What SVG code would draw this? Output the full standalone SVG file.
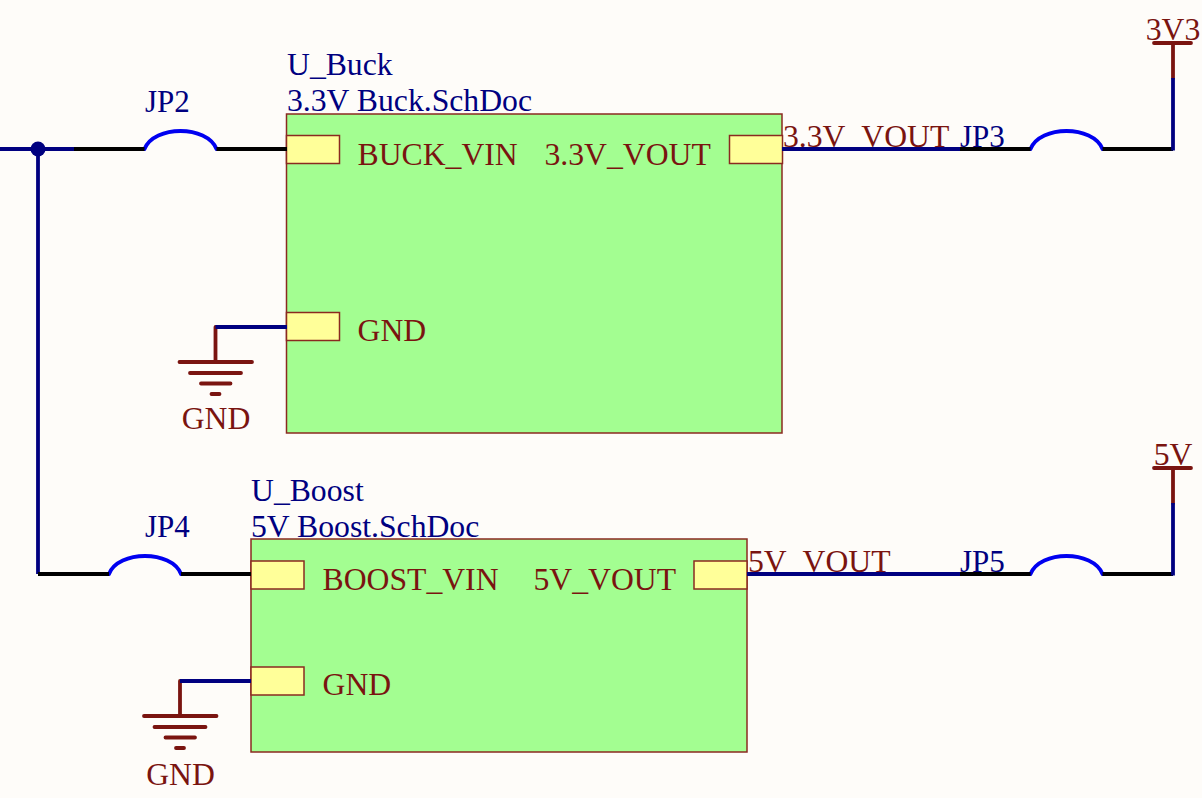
<svg xmlns="http://www.w3.org/2000/svg" width="1202" height="798" viewBox="0 0 1202 798">
<style>
text{font-family:"Liberation Serif","Times New Roman",serif;font-size:31.7px}
.r{fill:#7a1410}.b{fill:#000080}
.jp{font-size:31px}
.box{fill:#a3fe91;stroke:#8a2a20;stroke-width:1.5}
.pin{fill:#ffff99;stroke:#8a2a20;stroke-width:1.5}
.w,.k,.p,.a{fill:none;stroke-width:3.8}
.w{stroke:#000080}.k{stroke:#000}.p{stroke:#7a1410;stroke-linecap:round}.a{stroke:#0000f0;stroke-linecap:round}
</style>
<rect width="1202" height="798" fill="#fefcf9"/>
<g id="U_Buck">
<rect class="box" x="286.500" y="114" width="495.500" height="319"/>
<rect class="pin" x="286.500" y="135.500" width="53" height="28"/>
<rect class="pin" x="729.500" y="135.500" width="53" height="28"/>
<rect class="pin" x="286.500" y="312.500" width="53" height="28"/>
<text class="b" x="287" y="75">U_Buck</text>
<text class="b" x="287" y="111">3.3V Buck.SchDoc</text>
<text class="r" x="357.500" y="165">BUCK_VIN</text>
<text class="r" x="544.500" y="165">3.3V_VOUT</text>
<text class="r" x="357.500" y="341">GND</text>
<text class="r" x="783" y="146.500">3.3V_VOUT</text>
</g>
<g id="U_Boost">
<rect class="box" x="251" y="539" width="496" height="213"/>
<rect class="pin" x="251" y="561" width="53" height="28"/>
<rect class="pin" x="694" y="561" width="53" height="28"/>
<rect class="pin" x="251" y="667" width="53" height="28"/>
<text class="b" x="251" y="500.500">U_Boost</text>
<text class="b" x="251" y="536.500">5V Boost.SchDoc</text>
<text class="r" x="322.500" y="590">BOOST_VIN</text>
<text class="r" x="533.500" y="590">5V_VOUT</text>
<text class="r" x="322.500" y="695">GND</text>
<text class="r" x="748" y="572">5V_VOUT</text>
</g>
<g id="JP2"><path class="a" d="M144.500 149C154 125 207 125 216.500 149"/><text class="b jp" x="145" y="112">JP2</text></g>
<g id="JP3"><path class="a" d="M1030.500 149C1040 125 1093 125 1102.500 149"/><text class="b jp" x="960" y="146.500">JP3</text></g>
<g id="JP4"><path class="a" d="M109 574C118 550 172 550 181 574"/><text class="b jp" x="145" y="537">JP4</text></g>
<g id="JP5"><path class="a" d="M1030.500 574C1040 550 1093 550 1102.500 574"/><text class="b jp" x="960" y="572">JP5</text></g>
<g id="GND1">
<path class="p" d="M215.500 327V362M179.500 362H252M190 373H241M201 383.500H230.500M211.500 394H219.500"/>
<text class="r" x="216" y="429" text-anchor="middle">GND</text>
</g>
<g id="GND2">
<path class="p" d="M180 681V716M144 716H216.500M154.500 727H205.500M165.500 737.500H195M176 748H184"/>
<text class="r" x="180.500" y="785" text-anchor="middle">GND</text>
</g>
<g id="P3V3">
<path class="p" d="M1173 43V78"/><path class="p" d="M1154 43H1191"/>
<text class="r" x="1173" y="39.500" text-anchor="middle">3V3</text>
</g>
<g id="P5V">
<path class="p" d="M1173 468V503"/><path class="p" d="M1154 468H1191"/>
<text class="r" x="1173" y="464.500" text-anchor="middle">5V</text>
</g>
<g id="connectors">
<path class="w" d="M0 149H74M38 149V574"/>
<circle cx="38" cy="149" r="7.500" fill="#000080"/>
<path class="k" d="M74 149H144.500M216.500 149H287"/>
<path class="k" d="M38 574H109M181 574H251"/>
<path class="w" d="M782 149H960"/>
<path class="k" d="M960 149H1030.500M1102.500 149H1173"/>
<path class="w" d="M1173 150.500V78"/>
<path class="w" d="M747 574H960"/>
<path class="k" d="M960 574H1030.500M1102.500 574H1173"/>
<path class="w" d="M1173 575.500V503"/>
<path class="w" d="M215.500 327H287"/>
<path class="w" d="M180 681H251"/>
</g>
</svg>
